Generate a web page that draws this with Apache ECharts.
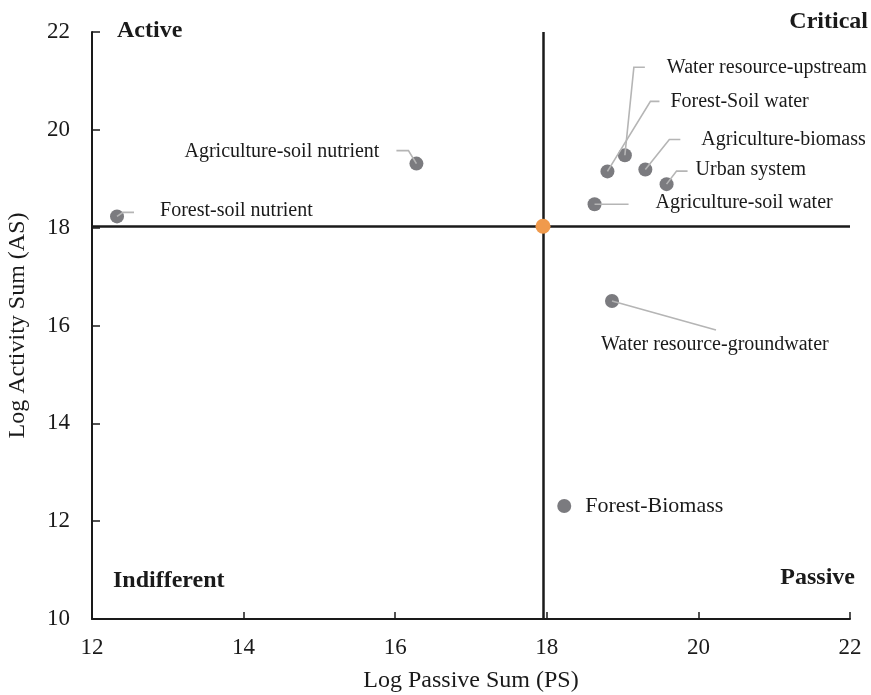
<!DOCTYPE html>
<html>
<head>
<meta charset="utf-8">
<script src="https://cdn.jsdelivr.net/npm/echarts@6/dist/echarts.min.js"></script>
<style>
  html, body { margin: 0; padding: 0; background: #fff; }
  #chart { width: 871px; height: 695px; }
</style>
</head>
<body>
<div id="chart"></div>
<script>
// factors and their log sums
const factors = [
  "Forest-soil nutrient",
  "Agriculture-soil nutrient",
  "Water resource-upstream",
  "Forest-Soil water",
  "Agriculture-biomass",
  "Urban system",
  "Agriculture-soil water",
  "Water resource-groundwater",
  "Forest-Biomass"
];
const passiveSum = [12.33, 16.28, 19.03, 18.80, 19.30, 19.58, 18.63, 18.86, 18.23];
const activitySum = [18.23, 19.31, 19.48, 19.15, 19.19, 18.89, 18.48, 16.50, 12.31];
const meanPS = 17.95;
const meanAS = 18.03;

const quadrants = ["Active", "Critical", "Indifferent", "Passive"];

// label placement (pixel offsets from the point), leader line vertices
const labelPlace = [
  { dx: 43, dy: -6, align: "left", leader: [[6, -4], [17, -4]] },
  { dx: -37, dy: -12, align: "right", leader: [[-8, -13], [-20, -13]] },
  { dx: 42, dy: -88, align: "left", leader: [[9, -88], [20, -88]] },
  { dx: 63, dy: -70, align: "left", leader: [[43, -70], [52, -70]] },
  { dx: 56, dy: -30, align: "left", leader: [[24, -30], [35, -30]] },
  { dx: 29, dy: -14, align: "left", leader: [[10, -13], [21, -13]] },
  { dx: 61, dy: -1, align: "left", leader: [[34, 0]] },
  { dx: -11, dy: 44, align: "left", leader: [[104, 29]] },
  { dx: 21, dy: 0, align: "left", size: 22, leader: [] }
];

const serif = '"Times New Roman", "Liberation Serif", serif';
const points = passiveSum.map((v, i) => [v, activitySum[i]]);

const chart = echarts.init(document.getElementById("chart"));
chart.setOption({
  backgroundColor: "#fff",
  animation: false,
  grid: { left: 92, right: 21, top: 32, bottom: 76, containLabel: false, outerBoundsMode: "none" },
  xAxis: {
    type: "value",
    min: 12,
    max: 22,
    interval: 2,
    name: "Log Passive Sum (PS)",
    nameLocation: "middle",
    nameGap: 50,
    nameTextStyle: { fontFamily: serif, fontSize: 24, color: "#1a1a1a" },
    axisLine: { show: true, lineStyle: { color: "#1a1a1a", width: 2 } },
    axisTick: { show: true, inside: true, length: 7, lineStyle: { color: "#1a1a1a", width: 1.5 } },
    axisLabel: { fontFamily: serif, fontSize: 23, color: "#1a1a1a", margin: 17 },
    splitLine: { show: false }
  },
  yAxis: {
    type: "value",
    min: 10,
    max: 22,
    interval: 2,
    name: "Log Activity Sum (AS)",
    nameLocation: "middle",
    nameGap: 62,
    nameTextStyle: { fontFamily: serif, fontSize: 24, color: "#1a1a1a" },
    axisLine: { show: true, lineStyle: { color: "#1a1a1a", width: 2 } },
    axisTick: { show: true, inside: true, length: 8, lineStyle: { color: "#1a1a1a", width: 1.5 } },
    axisLabel: { fontFamily: serif, fontSize: 23, color: "#1a1a1a", margin: 22 },
    splitLine: { show: false }
  },
  graphic: [
    { type: "text", x: 117, y: 31, style: { text: quadrants[0], font: "bold 24px " + serif, fill: "#1a1a1a", align: "left", verticalAlign: "middle" } },
    { type: "text", x: 868, y: 22, style: { text: quadrants[1], font: "bold 24px " + serif, fill: "#1a1a1a", align: "right", verticalAlign: "middle" } },
    { type: "text", x: 113, y: 581, style: { text: quadrants[2], font: "bold 24px " + serif, fill: "#1a1a1a", align: "left", verticalAlign: "middle" } },
    { type: "text", x: 855, y: 578, style: { text: quadrants[3], font: "bold 24px " + serif, fill: "#1a1a1a", align: "right", verticalAlign: "middle" } }
  ],
  series: [
    {
      name: "factors",
      type: "scatter",
      z: 2,
      symbolSize: 14,
      itemStyle: { color: "#7b7b7f", opacity: 1 },
      data: points,
      markLine: {
        silent: true,
        symbol: "none",
        label: { show: false },
        lineStyle: { color: "#1a1a1a", width: 2.5, type: "solid" },
        data: [{ xAxis: meanPS }, { yAxis: meanAS }]
      }
    },
    {
      name: "labels",
      type: "custom",
      z: 4,
      data: points,
      renderItem: function (params, api) {
        const i = params.dataIndex;
        const p = api.coord([api.value(0), api.value(1)]);
        const lay = labelPlace[i];
        const children = [];
        if (lay.leader.length) {
          const pts = [p].concat(lay.leader.map((d) => [p[0] + d[0], p[1] + d[1]]));
          children.push({
            type: "polyline",
            shape: { points: pts },
            style: { stroke: "#b5b5b5", lineWidth: 1.6, fill: null }
          });
        }
        children.push({
          type: "text",
          x: p[0] + lay.dx,
          y: p[1] + lay.dy,
          style: {
            text: factors[i],
            font: (lay.size || 20) + "px " + serif,
            fill: "#1a1a1a",
            align: lay.align,
            verticalAlign: "middle"
          }
        });
        return { type: "group", children: children };
      }
    },
    {
      name: "mean",
      type: "scatter",
      z: 5,
      symbolSize: 15,
      itemStyle: { color: "#F09A4C", opacity: 1 },
      data: [[meanPS, meanAS]]
    }
  ]
});
</script>
</body>
</html>
